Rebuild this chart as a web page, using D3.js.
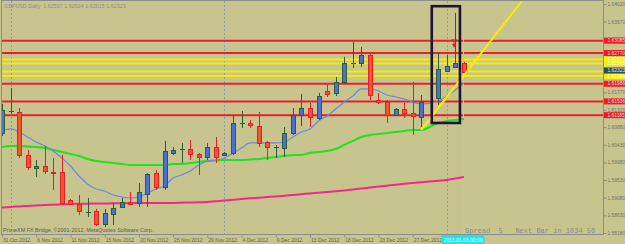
<!DOCTYPE html>
<html>
<head>
<meta charset="utf-8">
<script src="https://cdn.jsdelivr.net/npm/d3@7"></script>
<style>
  html, body { margin: 0; padding: 0; background: #c8c48e; }
  svg { display: block; font-family: "Liberation Sans", Arial, sans-serif; }
</style>
</head>
<body>
<div id="chart"></div>
<script>
// GBPUSD daily bars
const dates = ["31 Oct","1 Nov","2 Nov","5 Nov","6 Nov","7 Nov","8 Nov","9 Nov","11 Nov","12 Nov",
  "13 Nov","14 Nov","15 Nov","16 Nov","18 Nov","19 Nov","20 Nov","21 Nov","22 Nov","23 Nov",
  "25 Nov","26 Nov","27 Nov","28 Nov","29 Nov","30 Nov","2 Dec","3 Dec","4 Dec","5 Dec",
  "6 Dec","7 Dec","9 Dec","10 Dec","11 Dec","12 Dec","13 Dec","14 Dec","16 Dec","17 Dec",
  "18 Dec","19 Dec","20 Dec","21 Dec","23 Dec","24 Dec","25 Dec","26 Dec","27 Dec","28 Dec",
  "30 Dec","31 Dec","1 Jan","2 Jan","3 Jan"];

const open = [1.60731,1.61292,1.61266,1.60170,1.59838,1.59889,1.59736,1.59736,1.59022,1.58920,
  1.58716,1.58742,1.58410,1.58665,1.58844,1.58971,1.58946,1.59175,1.59711,1.59354,
  1.60221,1.60323,1.60323,1.60195,1.60119,1.60374,1.60170,1.60221,1.60986,1.60986,
  1.60909,1.60501,1.60374,1.60348,1.60731,1.61190,1.61368,1.61113,1.61802,1.61751,
  1.62031,1.62516,1.62516,1.62720,1.61572,1.61521,1.61190,1.61343,1.61241,1.61139,
  null,1.61623,1.62312,1.62414,1.62516];
const high = [1.61470,1.61878,1.61368,1.60297,1.60042,1.60399,1.60093,1.60170,1.59048,1.59150,
  1.59073,1.58793,1.58793,1.58946,1.59073,1.59226,1.59456,1.59711,1.59787,1.60527,
  1.60374,1.60476,1.60552,1.60221,1.60476,1.60629,1.60246,1.61190,1.61292,1.61062,
  1.61266,1.60527,1.60425,1.60884,1.61368,1.61725,1.61496,1.61751,1.61955,1.62159,
  1.62669,1.63051,1.62924,1.62745,1.61751,1.61572,1.61368,1.61496,1.62031,1.61700,
  null,1.62771,1.62720,1.63791,1.62541];
const low = [1.60654,1.61215,1.60093,1.59787,1.59609,1.59685,1.59277,1.58895,1.58895,1.58640,
  1.58589,1.58359,1.58334,1.58385,1.58818,1.58895,1.58844,1.58844,1.59277,1.59277,
  1.60170,1.59966,1.60042,1.59660,1.60042,1.59966,1.60144,1.60170,1.60858,1.60858,
  1.60374,1.60042,1.60093,1.60119,1.60680,1.60909,1.60884,1.61062,1.61649,1.61674,
  1.61980,1.62388,1.62414,1.61572,1.61470,1.60986,1.61164,1.61113,1.60680,1.60884,
  null,1.61445,1.62286,1.62388,1.62235];
const close = [1.61317,1.61292,1.60170,1.59864,1.59889,1.59762,1.59711,1.58946,1.58920,1.58742,
  1.58716,1.58410,1.58691,1.58818,1.58971,1.58920,1.59226,1.59685,1.59354,1.60272,
  1.60297,1.60323,1.60195,1.60119,1.60374,1.60119,1.60221,1.60986,1.60986,1.60935,
  1.60476,1.60374,1.60374,1.60731,1.61190,1.61368,1.61139,1.61674,1.61725,1.62031,
  1.62516,1.62516,1.62720,1.61700,1.61521,1.61190,1.61343,1.61241,1.61164,1.61521,
  null,1.62363,1.62439,1.62516,1.62286];

// moving averages (blue fast, green mid, pink slow)
const maFast = [1.60782,1.60833,1.60756,1.60629,1.60501,1.60399,1.60272,1.60093,1.59889,1.59634,
  1.59430,1.59303,1.59252,1.59150,1.59099,1.59073,1.59099,1.59201,1.59303,1.59379,
  1.59583,1.59660,1.59762,1.59915,1.60017,1.60042,1.60093,1.60221,1.60348,1.60476,
  1.60476,1.60476,1.60476,1.60501,1.60629,1.60756,1.60833,1.61037,1.61164,1.61343,
  1.61521,1.61674,1.61853,1.61853,1.61802,1.61700,1.61649,1.61598,1.61521,1.61470,
  null,1.61547,1.61674,1.61827,1.62006];
const maMid = [1.60374,1.60399,1.60399,1.60386,1.60374,1.60348,1.60297,1.60246,1.60195,1.60144,
  1.60068,1.60017,1.59991,1.59966,1.59940,1.59915,1.59915,1.59915,1.59915,1.59915,
  1.59940,1.59940,1.59966,1.59991,1.60017,1.60029,1.60042,1.60042,1.60042,1.60055,
  1.60068,1.60093,1.60119,1.60144,1.60170,1.60170,1.60221,1.60246,1.60272,1.60323,
  1.60425,1.60527,1.60629,1.60680,1.60705,1.60731,1.60756,1.60782,1.60807,1.60807,
  null,1.60986,1.61037,1.61062,1.61088];
const maSlow = [1.58831,1.58845,1.58858,1.58870,1.58882,1.58892,1.58902,1.58911,1.58920,1.58924,
  1.58928,1.58931,1.58933,1.58936,1.58939,1.58942,1.58946,1.58946,1.58946,1.58946,
  1.58946,1.58952,1.58958,1.58964,1.58971,1.58990,1.59009,1.59028,1.59048,1.59064,
  1.59080,1.59096,1.59112,1.59131,1.59150,1.59169,1.59188,1.59207,1.59226,1.59245,
  1.59265,1.59290,1.59315,1.59340,1.59366,1.59388,1.59410,1.59433,1.59456,1.59475,
  null,1.59513,1.59532,1.59570,1.59609];

// horizontal levels and their labels
const redLevels = ["1.63085","1.62770","1.61986","1.61536","1.61185"];
const yellowLevels = ["1.62605","1.62503","1.62300","1.62184"];
const bidPrice = "1.62323";

// axis labels
const priceTicks = ["1.64020","1.63570","1.63120","1.62670","1.62220","1.61770","1.61320",
  "1.60880","1.60430","1.59980","1.59530","1.59080","1.58630","1.58180"];
const dateTicks = ["31 Oct","6 Nov","11 Nov","15 Nov","20 Nov","25 Nov","29 Nov",
  "4 Dec","9 Dec","13 Dec","18 Dec","23 Dec","27 Dec"];
const separators = ["1 Nov","2 Dec","1 Jan"];

// drawing objects
const trendPoints = [{d: "28 Dec", v: 1.60807}, {d: "3 Jan", v: 1.62204}];
const boxDates = ["30 Dec", "2 Jan"], boxPrices = [1.63964, 1.60986];
const arrowAt = {d: "2 Jan", v: 1.63000};

const title = "GBPUSD,Daily  1.62597 1.62524 1.62015 1.62323";
const copyright = "PrimeXM FX Bridge, \u00a92001-2012, MetaQuotes Software Corp.";
const status = "Spread  5   Next Bar in 1034 56";
const cursorLabel = "2013.01.03 00:00";

/** CONSTANTS */
const width = 625, height = 244,
  plot = { left: 2, top: 1, right: 603, bottom: 234 },
  fs = 4.9;

const bull = { fill: "#4b71d6", edge: "#2f5d3c" },
  bear = { fill: "#f0562c", edge: "#e3202a" };

/** SCALES */
const x = d3.scalePoint().domain(dates).range([2, 464]);
const y = d3.scaleLinear().domain([1.58180, 1.64020]).range([233, 4]);
const px = v => Math.round(v) + 0.5;

const svg = d3.select("#chart").append("svg")
  .attr("width", width).attr("height", height);

svg.append("rect").attr("width", width).attr("height", height).attr("fill", "#c8c48e");

svg.append("clipPath").attr("id", "clip")
  .append("rect")
  .attr("x", plot.left).attr("y", plot.top)
  .attr("width", plot.right - plot.left).attr("height", plot.bottom - plot.top);

const g = svg.append("g").attr("clip-path", "url(#clip)");

// period separators
g.selectAll(".sep").data(separators).join("line")
  .attr("x1", d => px(x(d))).attr("x2", d => px(x(d)))
  .attr("y1", plot.top).attr("y2", plot.bottom)
  .attr("stroke", "#8d9ab6").attr("stroke-dasharray", "2,2");

// horizontal levels
g.append("g").selectAll("line").data(yellowLevels).join("line")
  .attr("x1", plot.left).attr("x2", plot.right)
  .attr("y1", d => y(+d)).attr("y2", d => y(+d))
  .attr("stroke", "#f2ee08").attr("stroke-width", 2);
g.append("g").selectAll("line").data(redLevels).join("line")
  .attr("x1", plot.left).attr("x2", plot.right)
  .attr("y1", d => y(+d)).attr("y2", d => y(+d))
  .attr("stroke", "#e8202e").attr("stroke-width", 2);

// cursor line
g.append("line")
  .attr("x1", px(x(dates[dates.length - 1]) - 1)).attr("x2", px(x(dates[dates.length - 1]) - 1))
  .attr("y1", plot.top).attr("y2", plot.bottom)
  .attr("stroke", "#72e2e6");

// moving averages
const maPath = vals => d3.line()
  .x(p => x(p.d)).y(p => y(p.v))
  .curve(d3.curveMonotoneX)(dates.map((d, i) => ({ d, v: vals[i] })).filter(p => p.v != null));

g.append("path").attr("d", maPath(maSlow)).attr("fill", "none")
  .attr("stroke", "#f4288c").attr("stroke-width", 2);
g.append("path").attr("d", maPath(maMid)).attr("fill", "none")
  .attr("stroke", "#1ee21e").attr("stroke-width", 2);
g.append("path").attr("d", maPath(maFast)).attr("fill", "none")
  .attr("stroke", "#6d86e6").attr("stroke-width", 1.2);

// candles
const bars = dates.map((d, i) => ({ d, o: open[i], h: high[i], l: low[i], c: close[i] }))
  .filter(b => b.o != null);
const side = b => (b.c >= b.o ? bull : bear);

g.append("g").selectAll("line").data(bars).join("line")
  .attr("x1", b => px(x(b.d))).attr("x2", b => px(x(b.d)))
  .attr("y1", b => y(b.h)).attr("y2", b => y(b.l))
  .attr("stroke", b => side(b).edge);

g.append("g").selectAll("rect").data(bars.filter(b => b.o !== b.c)).join("rect")
  .attr("x", b => Math.round(x(b.d)) - 2 + 0.5).attr("width", 4)
  .attr("y", b => Math.round(y(Math.max(b.o, b.c))) + 0.5)
  .attr("height", b => Math.max(1, Math.round(Math.abs(y(b.o) - y(b.c)))))
  .attr("fill", b => side(b).fill).attr("stroke", b => side(b).edge);

g.append("g").selectAll("line").data(bars.filter(b => b.o === b.c)).join("line")
  .attr("x1", b => Math.round(x(b.d)) - 2).attr("x2", b => Math.round(x(b.d)) + 3)
  .attr("y1", b => px(y(b.o))).attr("y2", b => px(y(b.o)))
  .attr("stroke", bull.edge);

// trend ray
const [t1, t2] = trendPoints.map(p => [x(p.d), y(p.v)]);
const slope = (t2[0] - t1[0]) / (t2[1] - t1[1]);
g.append("line")
  .attr("x1", t1[0]).attr("y1", t1[1])
  .attr("x2", t1[0] + (plot.top - t1[1]) * slope).attr("y2", plot.top)
  .attr("stroke", "#f6f000").attr("stroke-width", 2);

// sell arrow
const ax = Math.round(x(arrowAt.d)) - 1, ay = y(arrowAt.v);
g.append("path")
  .attr("d", `M${ax - 3},${ay - 4}H${ax + 3}M${ax},${ay - 4}V${ay}`)
  .attr("stroke", "#e3202a").attr("fill", "none");
g.append("path")
  .attr("d", `M${ax - 2},${ay}L${ax + 2},${ay}L${ax},${ay + 4}Z`)
  .attr("fill", "#e3202a");

// annotation box
g.append("rect")
  .attr("x", x(boxDates[0]) + 2).attr("y", y(boxPrices[0]))
  .attr("width", x(boxDates[1]) + 4.5 - (x(boxDates[0]) + 2))
  .attr("height", y(boxPrices[1]) - y(boxPrices[0]))
  .attr("fill", "none").attr("stroke", "#1d1531").attr("stroke-width", 2.6);

// frame
svg.append("rect")
  .attr("x", plot.left - 0.5).attr("y", plot.top - 0.5)
  .attr("width", plot.right - plot.left + 1).attr("height", plot.bottom - plot.top + 1)
  .attr("fill", "none").attr("stroke", "#8c8c8c");

// price axis
const yAxis = d3.axisRight(y)
  .tickValues(priceTicks.map(Number))
  .tickFormat((d, i) => priceTicks[i])
  .tickSize(3).tickPadding(1).tickSizeOuter(0);
const ya = svg.append("g").attr("transform", `translate(${plot.right + 0.5},0)`).call(yAxis);
ya.select(".domain").remove();
ya.selectAll("line").attr("stroke", "#8c8c8c");
ya.selectAll("text").attr("font-size", fs).attr("fill", "#707070");

// level tags on the price axis
const tag = (vals, fill, color) => {
  const t = svg.append("g").selectAll("g").data(vals).join("g")
    .attr("transform", d => `translate(${plot.right + 1},${y(+d)})`);
  t.append("rect").attr("x", 0).attr("y", -3).attr("width", 22).attr("height", 6).attr("fill", fill);
  t.append("text").attr("x", 3.5).attr("dy", "0.35em")
    .attr("font-size", fs).attr("fill", color).text(d => d);
};
tag(yellowLevels, "#f2ee08", "#fbfbe0");
tag(redLevels, "#ec1c26", "#ffd6d6");
tag([bidPrice], "#2f4f4f", "#e6e6e6");

// date axis
const xAxis = d3.axisBottom(x)
  .tickValues(dateTicks)
  .tickFormat(d => d + " 2012")
  .tickSize(3).tickSizeOuter(0);
const xa = svg.append("g").attr("transform", `translate(0,${plot.bottom + 0.5})`).call(xAxis);
xa.select(".domain").remove();
xa.selectAll("line").attr("stroke", "#8c8c8c");
xa.selectAll("text").attr("font-size", 5).attr("fill", "#5c5c5c")
  .attr("text-anchor", "start").attr("dx", 0.5).attr("y", 3.5);

// cursor date box
const cx = x(dates[dates.length - 1]) - 1;
svg.append("rect").attr("x", cx - 21.5).attr("y", plot.bottom + 1)
  .attr("width", 43).attr("height", height - plot.bottom - 1).attr("fill", "#1de6e8");
svg.append("text").attr("x", cx).attr("y", 241.5).attr("text-anchor", "middle")
  .attr("font-size", 5).attr("fill", "#e9ffff").text(cursorLabel);

// texts
svg.append("text").attr("x", 4).attr("y", 8)
  .attr("font-size", 5.4).attr("fill", "#8e8e8e").style("white-space", "pre").text(title);
svg.append("text").attr("x", 3).attr("y", 232)
  .attr("font-size", 5.4).attr("fill", "#5a5a5a").text(copyright);
svg.append("text").attr("x", 465).attr("y", 232.5)
  .attr("font-family", "'Liberation Mono', monospace").attr("font-size", 7)
  .attr("fill", "#8a8a8a").style("white-space", "pre").text(status);
</script>
</body>
</html>
